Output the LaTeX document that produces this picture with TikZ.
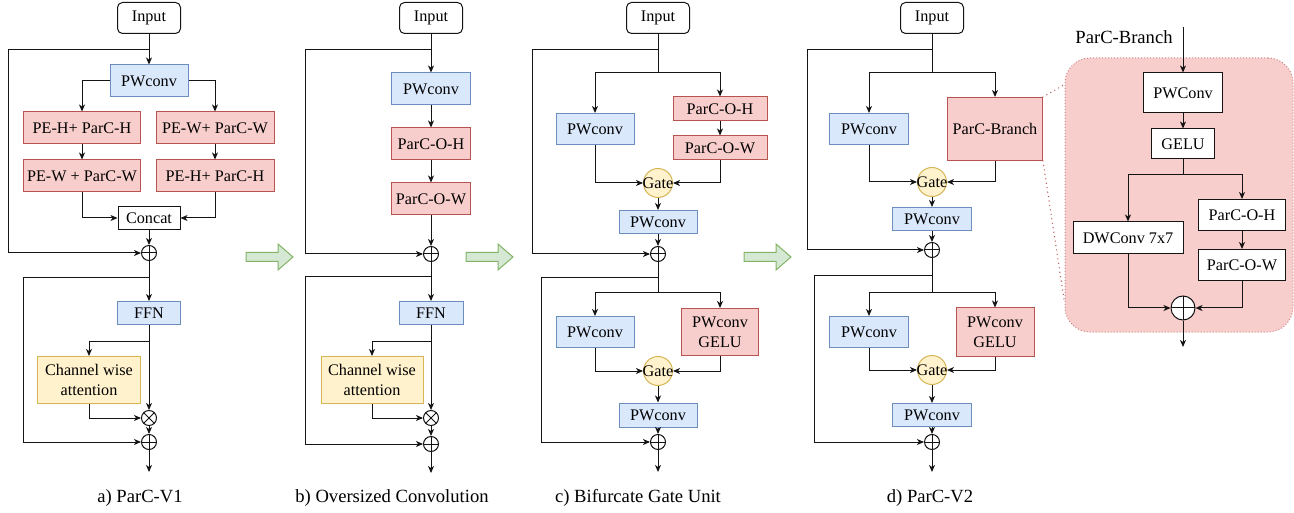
\documentclass[tikz,border=0pt]{standalone}
\usepackage{fontspec}
\setmainfont{Liberation Serif}
\usetikzlibrary{arrows.meta,calc}
\definecolor{ink}{HTML}{141414}
\definecolor{blaufill}{HTML}{DAE8FC}
\definecolor{blaurand}{HTML}{6C8EBF}
\definecolor{rotfill}{HTML}{F8CECC}
\definecolor{rotrand}{HTML}{B85450}
\definecolor{gelbfill}{HTML}{FFF2CC}
\definecolor{gelbrand}{HTML}{D6B656}
\definecolor{gruenfill}{HTML}{D5E8D4}
\definecolor{gruenrand}{HTML}{82B366}
\newcommand{\lbl}{\fontsize{16.2}{20}\selectfont}
\newcommand{\titel}{\fontsize{18.6}{22}\selectfont}
\newcommand{\gatetxt}{\makebox[0pt]{Gate}}
\tikzset{pfeil/.style={ink,line width=1pt,-{Stealth[length=7pt,width=6pt,inset=2pt]}},
  linie/.style={ink,line width=1pt},
  punktlinie/.style={rotrand,line width=1.4pt,line cap=round,dash pattern=on 0pt off 4.5pt},
  kasten/.style={draw,line width=1pt,inner sep=0,font=\lbl,align=center},
  blau/.style={kasten,fill=blaufill,draw=blaurand},
  rot/.style={kasten,fill=rotfill,draw=rotrand},
  gelb/.style={kasten,fill=gelbfill,draw=gelbrand},
  weiss/.style={kasten,fill=white,draw=ink},
  eingang/.style={weiss,rounded corners=5pt,minimum width=63pt,minimum height=31pt},
  gatter/.style={circle,draw=gelbrand,fill=gelbfill,line width=1pt,minimum size=29pt,inner sep=0,font=\lbl},
  summe/.style={circle,draw=ink,fill=white,line width=1pt,minimum size=15pt,inner sep=0,
    path picture={\draw[ink,line width=1pt] (path picture bounding box.north)--(path picture bounding box.south)
      (path picture bounding box.west)--(path picture bounding box.east);}},
  produkt/.style={summe,path picture={\draw[ink,line width=1pt]
      (path picture bounding box.north west)--(path picture bounding box.south east)
      (path picture bounding box.south west)--(path picture bounding box.north east);}}}
\newcommand{\grpfeil}[2]{\draw[gruenrand,fill=gruenfill,line width=1pt]
  (#1,#2-4.5) -- (#1+32,#2-4.5) -- (#1+32,#2-13) -- (#1+47,#2) -- (#1+32,#2+13) -- (#1+32,#2+4.5) -- (#1,#2+4.5) -- cycle;}

\begin{document}
\begin{tikzpicture}[x=1pt,y=-1pt]
\useasboundingbox (0,0) rectangle (1294,513);
% a) ParC-V1
\node[eingang] (inA) at (149,18) {Input};
\node[blau,minimum width=78pt,minimum height=32pt] (pwA) at (149,81) {PWconv};
\node[rot,minimum width=117pt,minimum height=32pt] (peA1) at (82,128) {PE-H+ ParC-H};
\node[rot,minimum width=118pt,minimum height=32pt] (peA2) at (215,128) {PE-W+ ParC-W};
\node[rot,minimum width=117pt,minimum height=32pt] (peA3) at (82,176) {PE-W + ParC-W};
\node[rot,minimum width=118pt,minimum height=32pt] (peA4) at (215,176) {PE-H+ ParC-H};
\node[weiss,minimum width=62pt,minimum height=23pt] (catA) at (149,218) {Concat};
\node[summe] (addA) at (149,253) {};
\node[blau,minimum width=63pt,minimum height=23pt] (ffnA) at (149,313) {FFN};
\node[gelb,minimum width=103pt,minimum height=47pt] (chA) at (89,380) {Channel wise\\attention};
\node[produkt] (mulA) at (149,418) {};
\node[summe] (addA2) at (149,442) {};
\coordinate (outA) at (149,472);
\coordinate (skA) at (8,50);
\coordinate (skA2) at (23,278);
\draw[pfeil] (inA) -- (pwA);
\draw[pfeil] (pwA.west) -| (peA1);
\draw[pfeil] (pwA.east) -| (peA2);
\draw[pfeil] (peA1) -- (peA3);
\draw[pfeil] (peA2) -- (peA4);
\draw[pfeil] (peA3) |- (catA);
\draw[pfeil] (peA4) |- (catA);
\draw[pfeil] (catA) -- (addA);
\draw[pfeil] (inA.south |- skA) -- (skA) |- (addA);
\draw[pfeil] (addA) -- (ffnA);
\draw[pfeil] (addA.south |- skA2) -- (skA2) |- (addA2);
\draw[pfeil] (ffnA) -- (mulA);
\draw[pfeil] (ffnA.south) ++(0,16) -| (chA);
\draw[pfeil] (chA) |- (mulA);
\draw[pfeil] (mulA) -- (addA2);
\draw[pfeil] (addA2) -- (outA);
\node[font=\titel] (capA) at (140,498) {a) ParC-V1};
% b) Oversized Convolution
\node[eingang] (inB) at (431,18) {Input};
\node[blau,minimum width=79pt,minimum height=32pt] (pwB) at (431,89) {PWconv};
\node[rot,minimum width=79pt,minimum height=32pt] (phB) at (431,144) {ParC-O-H};
\node[rot,minimum width=79pt,minimum height=32pt] (pvB) at (431,199) {ParC-O-W};
\node[summe] (addB) at (431,254) {};
\node[blau,minimum width=64pt,minimum height=23pt] (ffnB) at (431,313) {FFN};
\node[gelb,minimum width=102pt,minimum height=47pt] (chB) at (372,380) {Channel wise\\attention};
\node[produkt] (mulB) at (431,418) {};
\node[summe] (addB2) at (431,444) {};
\coordinate (outB) at (431,473);
\coordinate (skB) at (305,50);
\coordinate (skB2) at (305,277);
\draw[pfeil] (inB) -- (pwB);
\draw[pfeil] (pwB) -- (phB);
\draw[pfeil] (phB) -- (pvB);
\draw[pfeil] (pvB) -- (addB);
\draw[pfeil] (inB.south |- skB) -- (skB) |- (addB);
\draw[pfeil] (addB) -- (ffnB);
\draw[pfeil] (addB.south |- skB2) -- (skB2) |- (addB2);
\draw[pfeil] (ffnB) -- (mulB);
\draw[pfeil] (ffnB.south) ++(0,16) -| (chB);
\draw[pfeil] (chB) |- (mulB);
\draw[pfeil] (mulB) -- (addB2);
\draw[pfeil] (addB2) -- (outB);
\node[font=\titel] (capB) at (392,498) {b) Oversized Convolution};
% c) Bifurcate Gate Unit
\node[eingang] (inC) at (658,18) {Input};
\coordinate (fkC) at (658,73);
\node[blau,minimum width=78pt,minimum height=31pt] (pwC1) at (595,129) {PWconv};
\node[rot,minimum width=94pt,minimum height=24pt] (phC) at (720,109) {ParC-O-H};
\node[rot,minimum width=94pt,minimum height=24pt] (pvC) at (720,148) {ParC-O-W};
\node[gatter] (gateC) at (658,183) {\gatetxt};
\node[blau,minimum width=78pt,minimum height=23pt] (pwC2) at (658,222) {PWconv};
\node[summe] (addC1) at (658,254) {};
\coordinate (fkC2) at (658,293);
\node[blau,minimum width=78pt,minimum height=31pt] (pwC3) at (595,332) {PWconv};
\node[rot,minimum width=77pt,minimum height=47pt] (geC) at (720,332) {PWconv\\GELU};
\node[gatter] (gateC2) at (658,371) {\gatetxt};
\node[blau,minimum width=78pt,minimum height=24pt] (pwC4) at (658,415) {PWconv};
\node[summe] (addC2) at (658,442) {};
\coordinate (outC) at (658,472);
\coordinate (skC) at (532,50);
\coordinate (skC2) at (541,278);
\draw[linie] (inC) -- (fkC);
\draw[pfeil] (fkC) -| (pwC1);
\draw[pfeil] (fkC) -| (phC);
\draw[pfeil] (phC) -- (pvC);
\draw[pfeil] (pwC1) |- (gateC);
\draw[pfeil] (pvC) |- (gateC);
\draw[pfeil] (gateC) -- (pwC2);
\draw[pfeil] (pwC2) -- (addC1);
\draw[pfeil] (inC.south |- skC) -- (skC) |- (addC1);
\draw[linie] (addC1) -- (fkC2);
\draw[pfeil] (fkC2) -| (pwC3);
\draw[pfeil] (fkC2) -| (geC);
\draw[pfeil] (pwC3) |- (gateC2);
\draw[pfeil] (geC) |- (gateC2);
\draw[pfeil] (gateC2) -- (pwC4);
\draw[pfeil] (pwC4) -- (addC2);
\draw[pfeil] (addC1.south |- skC2) -- (skC2) |- (addC2);
\draw[pfeil] (addC2) -- (outC);
\node[font=\titel] (capC) at (638,498) {c) Bifurcate Gate Unit};
% d) ParC-V2
\node[eingang] (inD) at (932,18) {Input};
\coordinate (fkD) at (932,73);
\node[blau,minimum width=79pt,minimum height=31pt] (pwD1) at (869,129) {PWconv};
\node[rot,minimum width=95pt,minimum height=63pt] (brD) at (995,129) {ParC-Branch};
\node[gatter] (gateD) at (932,182) {\gatetxt};
\node[blau,minimum width=79pt,minimum height=23pt] (pwD2) at (932,219) {PWconv};
\node[summe] (addD1) at (932,250) {};
\coordinate (fkD2) at (932,293);
\node[blau,minimum width=79pt,minimum height=31pt] (pwD3) at (869,332) {PWconv};
\node[rot,minimum width=78pt,minimum height=48pt] (geD) at (995,332) {PWconv\\GELU};
\node[gatter] (gateD2) at (932,370) {\gatetxt};
\node[blau,minimum width=79pt,minimum height=23pt] (pwD4) at (932,415) {PWconv};
\node[summe] (addD2) at (932,442) {};
\coordinate (outD) at (932,472);
\coordinate (skD) at (807,50);
\coordinate (skD2) at (814,276);
\draw[linie] (inD) -- (fkD);
\draw[pfeil] (fkD) -| (pwD1);
\draw[pfeil] (fkD) -| (brD);
\draw[pfeil] (pwD1) |- (gateD);
\draw[pfeil] (brD) |- (gateD);
\draw[pfeil] (gateD) -- (pwD2);
\draw[pfeil] (pwD2) -- (addD1);
\draw[pfeil] (inD.south |- skD) -- (skD) |- (addD1);
\draw[linie] (addD1) -- (fkD2);
\draw[pfeil] (fkD2) -| (pwD3);
\draw[pfeil] (fkD2) -| (geD);
\draw[pfeil] (pwD3) |- (gateD2);
\draw[pfeil] (geD) |- (gateD2);
\draw[pfeil] (gateD2) -- (pwD4);
\draw[pfeil] (pwD4) -- (addD2);
\draw[pfeil] (addD1.south |- skD2) -- (skD2) |- (addD2);
\draw[pfeil] (addD2) -- (outD);
\node[font=\titel] (capD) at (930,498) {d) ParC-V2};
% ParC-Branch im Detail
\node[draw=rotrand!70,fill=rotfill,line width=1pt,dotted,rounded corners=25pt,
  minimum width=228pt,minimum height=274pt] (zoomE) at (1179,195) {};
\node[font=\titel] (titelE) at (1124,37) {ParC-Branch};
\coordinate (inE) at (1183,27);
\node[weiss,minimum width=79pt,minimum height=40pt] (pwE) at (1183,93) {PWConv};
\node[weiss,minimum width=63pt,minimum height=30pt] (geluE) at (1183,144) {GELU};
\coordinate (fkE) at (1183,175);
\node[weiss,minimum width=110pt,minimum height=32pt] (dwE) at (1128,238) {DWConv 7x7};
\node[weiss,minimum width=87pt,minimum height=31pt] (phE) at (1242,215) {ParC-O-H};
\node[weiss,minimum width=87pt,minimum height=31pt] (pvE) at (1242,265) {ParC-O-W};
\node[summe,minimum size=24pt] (addE) at (1183,308) {};
\coordinate (outE) at (1183,347);
\draw[pfeil] (inE) -- (pwE);
\draw[pfeil] (pwE) -- (geluE);
\draw[linie] (geluE) -- (fkE);
\draw[pfeil] (fkE) -| (dwE);
\draw[pfeil] (fkE) -| (phE);
\draw[pfeil] (phE) -- (pvE);
\draw[pfeil] (dwE) |- (addE);
\draw[pfeil] (pvE) |- (addE);
\draw[pfeil] (addE) -- (outE);
\draw[punktlinie] (brD.north east) -- ($(zoomE.north west)+(0,27)$);
\draw[punktlinie] (brD.south east) -- ($(zoomE.south west)+(0,-30)$);
% Uebergaenge
\grpfeil{246}{257}
\grpfeil{466}{257}
\grpfeil{744}{257}
\end{tikzpicture}
\end{document}
